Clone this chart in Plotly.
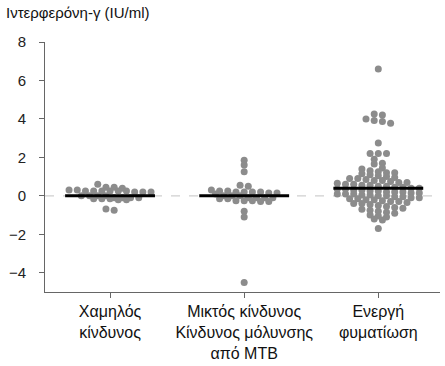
import numpy as np
import plotly.graph_objects as go

# Interferon-gamma response per risk group (IU/ml)
categories = [
    "Χαμηλός<br>κίνδυνος",
    "Μικτός κίνδυνος<br>Κίνδυνος μόλυνσης<br>από MTB",
    "Ενεργή<br>φυματίωση",
]
low_risk = [0.6, 0.45, 0.45, 0.4, 0.3, 0.3, 0.25, 0.25, 0.25, 0.25, 0.25,
            0.25, 0.2, 0.2, 0.2, 0.0, 0.0, 0.0, 0.0, -0.1, -0.1, -0.1, -0.1,
            -0.15, -0.15, -0.15, -0.2, -0.2, -0.68, -0.75]
mixed_risk = [1.85, 1.6, 1.25, 0.55, 0.5, 0.3, 0.25, 0.25, 0.2, 0.2, 0.2,
              0.2, 0.15, 0.15, 0.1, 0.0, 0.0, 0.0, -0.1, -0.1, -0.1, -0.1,
              -0.15, -0.15, -0.25, -0.25, -0.25, -0.3, -0.3, -0.8, -1.1, -4.5]
active_tb = [6.6, 4.25, 4.2, 4.0, 3.92, 3.86, 3.78, 2.75, 2.2, 2.2, 2.2,
             1.9, 1.7, 1.65, 1.45, 1.4, 1.3, 1.25, 1.2, 1.2, 1.15, 1.1, 1.05,
             1.0, 0.95, 0.9, 0.9, 0.85, 0.8, 0.8, 0.75, 0.7, 0.7, 0.65, 0.6,
             0.6, 0.55, 0.55, 0.5, 0.5, 0.45, 0.45, 0.4, 0.4, 0.35, 0.35, 0.3,
             0.3, 0.25, 0.25, 0.2, 0.2, 0.2, 0.15, 0.15, 0.1, 0.1, 0.1, 0.05,
             0.05, 0.0, 0.0, -0.05, -0.05, -0.1, -0.1, -0.15, -0.15, -0.2,
             -0.2, -0.25, -0.3, -0.3, -0.35, -0.4, -0.4, -0.45, -0.5, -0.55,
             -0.6, -0.65, -0.7, -0.75, -0.8, -0.85, -0.9, -1.0, -1.05, -1.1,
             -1.2, -1.25, -1.7]
medians = [0.0, 0.0, 0.4]
groups = [low_risk, mixed_risk, active_tb]
y_ticks = [-4, -2, 0, 2, 4, 6, 8]

# plot geometry (pixels) used to lay out the dot rows
W, H = 445, 366
M_L, M_R, M_T, M_B = 45, 5, 42, 74
X_RANGE = [-0.485, 2.46]
Y_RANGE = [-5, 8]
px_x = (W - M_L - M_R) / (X_RANGE[1] - X_RANGE[0])
px_y = (H - M_T - M_B) / (Y_RANGE[1] - Y_RANGE[0])
DOT = 7
ROW_H = 5.0      # vertical bin height (px)
STEP = 8.2       # horizontal spacing between dots in a row (px)


def row_offsets(vals):
    """Scatter-dot layout: bin values into rows and centre each row."""
    vals = np.asarray(vals, dtype=float)
    bins = np.round(vals * px_y / ROW_H).astype(int)
    offs = np.zeros(len(vals))
    for b in np.unique(bins):
        idx = np.where(bins == b)[0]
        n = len(idx)
        offs[idx] = (np.arange(n) - (n - 1) / 2.0) * STEP
    return offs / px_x


fig = go.Figure()

# dashed reference line at zero
fig.add_shape(type="line", xref="paper", yref="y", x0=0, x1=1, y0=0, y1=0,
              line=dict(color="#cfcfcf", width=1.2, dash="dash"), layer="below")

for gi, vals in enumerate(groups):
    xs = gi + row_offsets(vals)
    fig.add_trace(go.Scatter(
        x=xs, y=vals, mode="markers",
        marker=dict(size=DOT, color="#8c8c8c", line=dict(width=0)),
        hoverinfo="y", showlegend=False,
    ))
    fig.add_trace(go.Scatter(
        x=[gi - 0.335, gi + 0.335], y=[medians[gi], medians[gi]], mode="lines",
        line=dict(color="black", width=3), hoverinfo="skip", showlegend=False,
    ))

fig.update_layout(
    width=W, height=H,
    margin=dict(l=M_L, r=M_R, t=M_T, b=M_B),
    paper_bgcolor="white", plot_bgcolor="white",
    font=dict(family="Liberation Sans, Arial, sans-serif", size=15, color="#222"),
    xaxis=dict(
        range=X_RANGE, tickvals=[0, 1, 2], ticktext=categories,
        showgrid=False, zeroline=False, showline=True, linecolor="#666",
        linewidth=1, ticks="outside", ticklen=5, tickcolor="#666",
        tickfont=dict(size=16, color="#111"),
    ),
    yaxis=dict(
        range=Y_RANGE, tickvals=y_ticks, showgrid=False, zeroline=False,
        showline=True, linecolor="#666", linewidth=1, ticks="outside",
        ticklen=5, tickcolor="#666", tickfont=dict(size=15, color="#222"),
        ticklabelstandoff=10,
    ),
    annotations=[dict(
        text="Ιντερφερόνη-γ (IU/ml)", xref="paper", yref="paper",
        x=-M_L / (W - M_L - M_R) + 4 / (W - M_L - M_R), y=1,
        yshift=M_T - 2, xanchor="left", yanchor="top", showarrow=False,
        font=dict(size=15, color="#111"),
    )],
)

fig.write_html("out.html")
